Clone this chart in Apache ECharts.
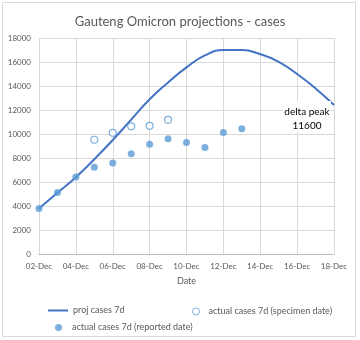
<!DOCTYPE html>
<html><head><meta charset="utf-8">
<script src="https://cdn.jsdelivr.net/npm/echarts@6/dist/echarts.min.js"></script>
<style>html,body{margin:0;padding:0;background:#fff}#c{width:360px;height:340px}</style>
</head><body><div id="c"></div>
<script>
const categories = ['02-Dec','03-Dec','04-Dec','05-Dec','06-Dec','07-Dec','08-Dec','09-Dec','10-Dec','11-Dec','12-Dec','13-Dec','14-Dec','15-Dec','16-Dec','17-Dec','18-Dec'];
const projCases = [3800,5100,6400,7900,9500,11200,12900,14300,15550,16550,17000,17000,16650,16020,15000,13800,12420];
const specimenCases = [null,null,null,9520,10100,10640,10680,11180,null,null,null,null,null,null,null,null,null];
const reportedCases = [3800,5130,6420,7220,7580,8360,9140,9610,9300,8880,10130,10440,null,null,null,null,null];
const yTicks = {min:0, max:18000, interval:2000};
const annotationLines = ['delta peak','11600'];

const FONT = 'Lato';
const GREY = '#595959';
const chart = echarts.init(document.getElementById('c'));
const legendText = {color:GREY, fontSize:9, fontFamily:FONT};
chart.setOption({
  animation:false,
  title:{text:'Gauteng Omicron projections - cases', left:'center', top:10,
    textStyle:{fontFamily:FONT, fontSize:13, fontWeight:'normal', color:GREY}},
  grid:{left:39, right:26, top:38, bottom:86, containLabel:false},
  xAxis:{type:'category', data:categories, boundaryGap:false,
    name:'Date', nameLocation:'middle', nameGap:23,
    nameTextStyle:{color:GREY, fontSize:9, fontFamily:FONT},
    axisLine:{lineStyle:{color:'#bfbfbf'}}, axisTick:{show:false},
    axisLabel:{interval:1, color:GREY, fontSize:8, fontFamily:FONT, margin:8},
    splitLine:{show:true, interval:1, lineStyle:{color:'#d9d9d9'}}},
  yAxis:{type:'value', min:yTicks.min, max:yTicks.max, interval:yTicks.interval,
    axisLine:{show:false}, axisTick:{show:false},
    axisLabel:{color:GREY, fontSize:8, fontFamily:FONT, margin:8, formatter:v=>String(v)},
    splitLine:{lineStyle:{color:'#d9d9d9'}}},
  legend:[
    {data:[{name:'proj cases 7d', icon:'rect'}], left:43, top:301, itemWidth:20, itemHeight:2, textStyle:legendText},
    {data:[{name:'actual cases 7d (specimen date)', icon:'circle', itemStyle:{borderWidth:1}}], left:187, top:302, itemWidth:7, itemHeight:7, textStyle:Object.assign({padding:[0,0,0,4]},legendText)},
    {data:[{name:'actual cases 7d (reported date)', icon:'circle'}], left:50, top:318, itemWidth:7, itemHeight:7, textStyle:Object.assign({padding:[0,0,0,5]},legendText)}
  ],
  series:[
    {name:'proj cases 7d', type:'line', data:projCases, smooth:0.5, showSymbol:false, symbol:'none',
      lineStyle:{color:'#4472C4', width:2}, itemStyle:{color:'#4472C4'}, z:2},
    {name:'actual cases 7d (specimen date)', type:'scatter', data:specimenCases, symbol:'circle', symbolSize:7,
      itemStyle:{color:'#ffffff', borderColor:'#5B9BD5', borderWidth:1.2}, z:3},
    {name:'actual cases 7d (reported date)', type:'scatter', data:reportedCases, symbol:'circle', symbolSize:7,
      itemStyle:{color:'#5B9BD5'}, z:3}
  ],
  graphic:[
    {type:'rect', shape:{x:2.5, y:2.5, width:353, height:334}, style:{fill:'none', stroke:'#d9d9d9', lineWidth:1}, silent:true},
    {type:'rect', shape:{x:283, y:101, width:48, height:31}, style:{fill:'#ffffff'}, z:10},
    {type:'text', x:307, y:112, z:11, style:{text:annotationLines[0], fill:'#000', fontSize:10, fontFamily:FONT, align:'center', verticalAlign:'middle'}},
    {type:'text', x:307, y:126, z:11, style:{text:annotationLines[1], fill:'#000', fontSize:10, fontFamily:FONT, align:'center', verticalAlign:'middle'}}
  ]
});
</script></body></html>
